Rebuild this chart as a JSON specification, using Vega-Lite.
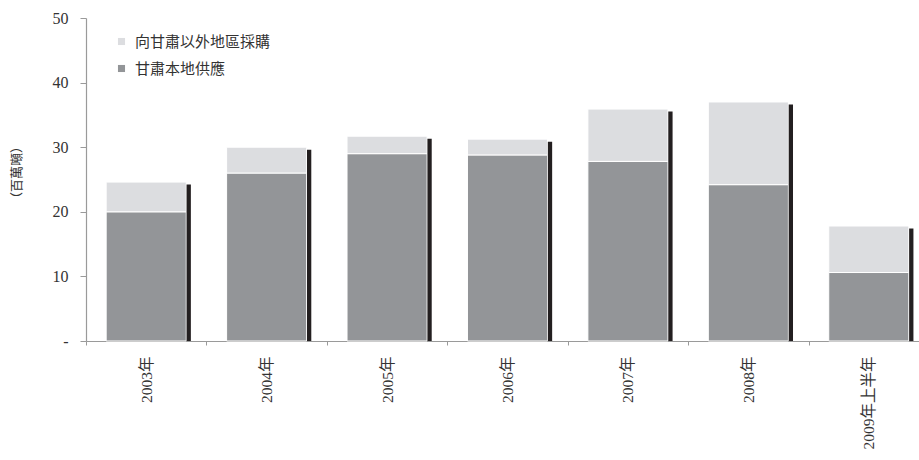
{
  "$schema": "https://vega.github.io/schema/vega-lite/v6.json",
  "autosize": "none",
  "width": 833,
  "height": 323,
  "padding": {"left": 86, "top": 18, "right": 0, "bottom": 119},
  "background": "white",
  "config": {"view": {"stroke": null}, "font": "Liberation Serif"},
  "data": {"values": [
    {"year": "2003年", "source": "甘肅本地供應", "value": 20.0},
    {"year": "2003年", "source": "向甘肅以外地區採購", "value": 4.6},
    {"year": "2004年", "source": "甘肅本地供應", "value": 26.0},
    {"year": "2004年", "source": "向甘肅以外地區採購", "value": 4.0},
    {"year": "2005年", "source": "甘肅本地供應", "value": 29.0},
    {"year": "2005年", "source": "向甘肅以外地區採購", "value": 2.7},
    {"year": "2006年", "source": "甘肅本地供應", "value": 28.8},
    {"year": "2006年", "source": "向甘肅以外地區採購", "value": 2.45},
    {"year": "2007年", "source": "甘肅本地供應", "value": 27.8},
    {"year": "2007年", "source": "向甘肅以外地區採購", "value": 8.1},
    {"year": "2008年", "source": "甘肅本地供應", "value": 24.2},
    {"year": "2008年", "source": "向甘肅以外地區採購", "value": 12.8},
    {"year": "2009年上半年", "source": "甘肅本地供應", "value": 10.6},
    {"year": "2009年上半年", "source": "向甘肅以外地區採購", "value": 7.2}
  ]},
  "encoding": {
    "x": {
      "field": "year", "type": "nominal", "sort": null,
      "scale": {"range": [0, 843], "paddingInner": 0, "paddingOuter": 0},
      "axis": {
        "title": null, "labelAngle": -90, "labelAlign": "right", "labelBaseline": "middle",
        "labelFontSize": 15.5, "labelColor": "#333333", "labelPadding": 11,
        "labelFont": "Liberation Serif, Noto Sans CJK TC",
        "tickBand": "extent", "tickSize": 4, "tickColor": "#9a9a9a",
        "domainColor": "#9a9a9a", "domainWidth": 1.2, "labelOverlap": false
      }
    }
  },
  "layer": [
    {
      "mark": {"type": "bar", "width": {"band": 0.665}, "stroke": "white", "strokeWidth": 1},
      "encoding": {
        "y": {
          "field": "value", "type": "quantitative", "stack": "zero",
          "scale": {"domain": [0, 50]},
          "title": "（百萬噸）",
          "axis": {
            "values": [0, 10, 20, 30, 40, 50],
            "labelExpr": "datum.value == 0 ? '-' : datum.label",
            "grid": false, "labelFontSize": 16, "labelColor": "#333333",
            "labelFont": "Liberation Serif",
            "labelPadding": 12, "tickSize": 6, "tickColor": "#9a9a9a",
            "domainColor": "#9a9a9a", "domainWidth": 1.2,
            "titleFont": "Noto Sans CJK TC", "titleFontSize": 13, "titleFontWeight": "normal",
            "titleColor": "#333333", "titleX": -70, "titleY": 154, "titleBaseline": "middle",
            "titleAlign": "center", "titleAngle": -90
          }
        },
        "color": {
          "field": "source", "type": "nominal",
          "scale": {"domain": ["向甘肅以外地區採購", "甘肅本地供應"], "range": ["#dcdde0", "#939598"]},
          "legend": {
            "title": null, "orient": "none", "legendX": 28, "legendY": 16,
            "symbolType": "square", "symbolSize": 50, "symbolStrokeWidth": 0,
            "labelFont": "Noto Sans CJK TC", "labelFontSize": 15, "labelColor": "#333333",
            "rowPadding": 11, "padding": 0, "labelOffset": 6
          }
        },
        "order": {"field": "source", "sort": "descending"}
      }
    },
    {
      "mark": {"type": "bar", "width": 4.3, "xOffset": 42.5, "yOffset": 2.5, "color": "#231f20"},
      "encoding": {
        "y": {"aggregate": "sum", "field": "value", "type": "quantitative", "title": "（百萬噸）"}
      }
    }
  ]
}
